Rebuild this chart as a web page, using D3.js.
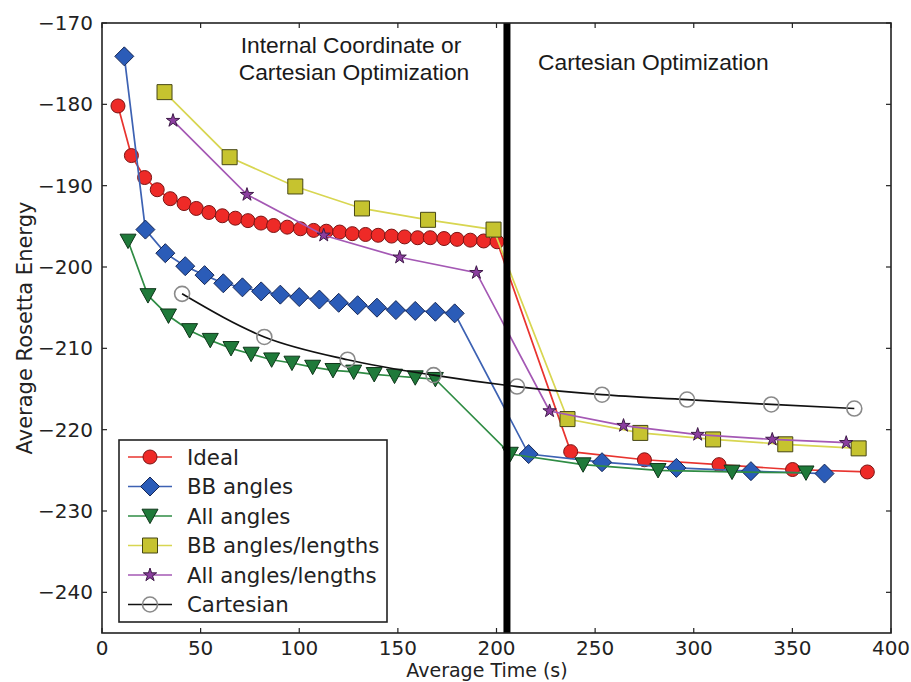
<!DOCTYPE html>
<html>
<head>
<meta charset="utf-8">
<script src="https://cdn.jsdelivr.net/npm/d3@7"></script>
<style>
  body { margin: 0; background: #fff; }
  svg { display: block; }
</style>
</head>
<body>
<svg id="chart"></svg>
<script>
// Ideal
var idealX = [8.1, 14.9, 21.6, 28.0, 34.6, 41.6, 47.8, 54.2, 61.0, 67.6, 74.0, 80.6, 87.0, 93.9, 100.6,
              107.3, 113.7, 120.5, 126.9, 133.6, 140.0, 146.8, 153.4, 160.0, 166.4, 173.4, 180.0, 186.7, 193.5, 200.3,
              237.6, 275.0, 312.8, 350.1, 388.0]
var idealY = [-180.2, -186.3, -189.0, -190.5, -191.6, -192.2, -192.8, -193.3, -193.7, -194.0, -194.3, -194.6, -194.9, -195.1, -195.3,
              -195.5, -195.6, -195.7, -195.9, -196.0, -196.1, -196.2, -196.3, -196.4, -196.4, -196.5, -196.6, -196.7, -196.8, -196.9,
              -222.7, -223.7, -224.3, -224.9, -225.2]
// BB angles
var bbX = [11.3, 22.0, 32.1, 42.2, 52.0, 61.5, 71.2, 80.7, 90.4, 100.0, 110.2, 120.0, 129.6, 139.4, 149.0, 158.8, 169.0, 178.8,
           216.3, 253.5, 291.2, 329.0, 366.3]
var bbY = [-174.1, -195.4, -198.3, -199.9, -201.0, -202.0, -202.5, -203.0, -203.4, -203.7, -204.0, -204.4, -204.7, -205.0, -205.3, -205.4, -205.5, -205.7,
           -223.0, -224.0, -224.7, -225.1, -225.4]
// All angles
var allX = [13.2, 23.3, 33.7, 44.4, 54.9, 65.4, 75.6, 86.0, 96.3, 106.8, 117.1, 127.6, 138.0, 148.3, 158.8, 169.0,
            207.0, 243.9, 281.9, 319.4, 356.9]
var allY = [-196.8, -203.5, -206.0, -207.8, -209.0, -210.0, -210.7, -211.4, -211.8, -212.3, -212.7, -212.9, -213.2, -213.4, -213.6, -213.8,
            -223.0, -224.3, -225.0, -225.2, -225.3]
// BB angles/lengths
var bbLenX = [31.7, 64.7, 98.0, 131.8, 165.3, 198.5, 236.0, 272.9, 309.8, 346.4, 383.6]
var bbLenY = [-178.5, -186.5, -190.1, -192.8, -194.2, -195.4, -218.7, -220.4, -221.2, -221.8, -222.3]
// All angles/lengths
var allLenX = [36.0, 73.5, 112.4, 150.9, 189.8, 226.9, 264.4, 302.0, 339.8, 377.3]
var allLenY = [-182.0, -191.1, -196.1, -198.8, -200.7, -217.7, -219.5, -220.6, -221.2, -221.6]
// Cartesian
var cartX = [40.6, 82.3, 124.5, 168.1, 210.4, 253.5, 296.6, 339.3, 381.4]
var cartY = [-203.3, -208.6, -211.4, -213.3, -214.7, -215.7, -216.3, -216.9, -217.4]

var seriesNames = ["Ideal", "BB angles", "All angles", "BB angles/lengths", "All angles/lengths", "Cartesian"]
var xTicks = [0, 50, 100, 150, 200, 250, 300, 350, 400]
var yTicks = [-240, -230, -220, -210, -200, -190, -180, -170]
var switchTime = 205.3

var dimensions = {
    width: 911,
    height: 682,
    margin: { top: 23, bottom: 49, left: 102, right: 20 }
}

var svg = d3.select("#chart")
            .attr("width", dimensions.width)
            .attr("height", dimensions.height)

var xScale = d3.scaleLinear()
               .domain([0, 400])
               .range([dimensions.margin.left, dimensions.width - dimensions.margin.right])
var yScale = d3.scaleLinear()
               .domain([-245, -170])
               .range([dimensions.height - dimensions.margin.bottom, dimensions.margin.top])

function markerPath(type, r) {
    if (type == "circle" || type == "open") return d3.symbol(d3.symbolCircle, Math.PI * r * r)()
    if (type == "diamond") return `M0,${-r}L${r},0L0,${r}L${-r},0Z`
    if (type == "tri") return `M${-r},${-r * 0.85}L${r},${-r * 0.85}L0,${r * 0.95}Z`
    if (type == "square") return `M${-r},${-r}H${r}V${r}H${-r}Z`
    if (type == "star") return d3.symbol(d3.symbolStar, r * r / 0.8908)()
}

var series = [
    { name: seriesNames[0], xs: idealX, ys: idealY, line: "#e8342f", fill: "#ee2a27", edge: "#7a1414", marker: "circle", r: 7 },
    { name: seriesNames[1], xs: bbX, ys: bbY, line: "#3d62b3", fill: "#2b5cb8", edge: "#172856", marker: "diamond", r: 9.5 },
    { name: seriesNames[2], xs: allX, ys: allY, line: "#2f8c44", fill: "#1f7a3a", edge: "#0e3519", marker: "tri", r: 8 },
    { name: seriesNames[3], xs: bbLenX, ys: bbLenY, line: "#d8d651", fill: "#c6c32f", edge: "#464615", marker: "square", r: 7.5 },
    { name: seriesNames[4], xs: allLenX, ys: allLenY, line: "#a458b4", fill: "#8b3e9f", edge: "#3e1a48", marker: "star", r: 7 },
    { name: seriesNames[5], xs: cartX, ys: cartY, line: "#111111", fill: "none", edge: "#8a8a8a", marker: "open", r: 7.5 }
]

var plot = svg.append("g")

series.forEach(s => {
    var pts = s.xs.map((x, i) => [x, s.ys[i]])
    var line = d3.line()
                 .x(d => xScale(d[0]))
                 .y(d => yScale(d[1]))
    if (s.marker == "open") line.curve(d3.curveMonotoneX)
    plot.append("path")
        .attr("d", line(pts))
        .attr("fill", "none")
        .attr("stroke", s.line)
        .attr("stroke-width", 1.7)
    plot.append("g")
        .selectAll("path")
        .data(pts)
        .enter()
        .append("path")
        .attr("transform", d => `translate(${xScale(d[0])},${yScale(d[1])})`)
        .attr("d", markerPath(s.marker, s.r))
        .attr("fill", s.fill)
        .attr("stroke", s.edge)
        .attr("stroke-width", s.marker == "open" ? 1.6 : 1)
})

// phase divider
svg.append("line")
   .attr("x1", xScale(switchTime)).attr("x2", xScale(switchTime))
   .attr("y1", yScale(-170)).attr("y2", yScale(-245))
   .attr("stroke", "black")
   .attr("stroke-width", 7)

// frame
var x0 = xScale(0), x1 = xScale(400), y0 = yScale(-245), y1 = yScale(-170)
svg.append("rect")
   .attr("x", x0).attr("y", y1)
   .attr("width", x1 - x0).attr("height", y0 - y1)
   .attr("fill", "none")
   .attr("stroke", "#222")
   .attr("stroke-width", 1.6)

// ticks inside on all sides
var tickG = svg.append("g").attr("stroke", "#222").attr("stroke-width", 1.2)
xTicks.forEach(t => {
    tickG.append("line").attr("x1", xScale(t)).attr("x2", xScale(t)).attr("y1", y0).attr("y2", y0 - 5)
    tickG.append("line").attr("x1", xScale(t)).attr("x2", xScale(t)).attr("y1", y1).attr("y2", y1 + 5)
})
yTicks.forEach(t => {
    tickG.append("line").attr("x1", x0).attr("x2", x0 + 5).attr("y1", yScale(t)).attr("y2", yScale(t))
    tickG.append("line").attr("x1", x1).attr("x2", x1 - 5).attr("y1", yScale(t)).attr("y2", yScale(t))
})

var labelFont = "DejaVu Sans, sans-serif"

svg.append("g")
   .selectAll("text")
   .data(xTicks)
   .enter()
   .append("text")
   .attr("x", d => xScale(d))
   .attr("y", y0 + 22)
   .attr("text-anchor", "middle")
   .attr("font-family", labelFont)
   .attr("font-size", 20)
   .attr("fill", "#222")
   .text(d => d)

svg.append("g")
   .selectAll("text")
   .data(yTicks)
   .enter()
   .append("text")
   .attr("x", x0 - 9)
   .attr("y", d => yScale(d) + 7)
   .attr("text-anchor", "end")
   .attr("font-family", labelFont)
   .attr("font-size", 20)
   .attr("fill", "#222")
   .text(d => "\u2212" + Math.abs(d))

svg.append("text")
   .attr("x", 487)
   .attr("y", 677)
   .attr("text-anchor", "middle")
   .attr("font-family", labelFont)
   .attr("font-size", 19)
   .attr("fill", "#222")
   .text("Average Time (s)")

svg.append("text")
   .attr("transform", `translate(32,${(y0 + y1) / 2}) rotate(-90)`)
   .attr("text-anchor", "middle")
   .attr("font-family", labelFont)
   .attr("font-size", 21)
   .attr("fill", "#222")
   .text("Average Rosetta Energy")

// phase annotations
var noteFont = "Liberation Sans, Arial, sans-serif"
svg.append("text")
   .attr("x", 351).attr("y", 53)
   .attr("text-anchor", "middle")
   .attr("font-family", noteFont)
   .attr("font-size", 22.8)
   .attr("fill", "#1a1a1a")
   .text("Internal Coordinate or")
svg.append("text")
   .attr("x", 354).attr("y", 80)
   .attr("text-anchor", "middle")
   .attr("font-family", noteFont)
   .attr("font-size", 22.8)
   .attr("fill", "#1a1a1a")
   .text("Cartesian Optimization")
svg.append("text")
   .attr("x", 538).attr("y", 70)
   .attr("font-family", noteFont)
   .attr("font-size", 22.8)
   .attr("fill", "#1a1a1a")
   .text("Cartesian Optimization")

// legend
var legend = svg.append("g")
legend.append("rect")
      .attr("x", 119).attr("y", 440)
      .attr("width", 268).attr("height", 182)
      .attr("fill", "white")
      .attr("stroke", "#222")
      .attr("stroke-width", 1.6)

series.forEach((s, i) => {
    var ly = 457 + i * 29.5
    legend.append("line")
          .attr("x1", 128).attr("x2", 172)
          .attr("y1", ly).attr("y2", ly)
          .attr("stroke", s.line)
          .attr("stroke-width", 1.7)
    legend.append("path")
          .attr("transform", `translate(150,${ly})`)
          .attr("d", markerPath(s.marker, s.r))
          .attr("fill", s.fill)
          .attr("stroke", s.edge)
          .attr("stroke-width", s.marker == "open" ? 1.6 : 1)
    legend.append("text")
          .attr("x", 187).attr("y", ly + 7.5)
          .attr("font-family", labelFont)
          .attr("font-size", 21.3)
          .attr("fill", "#222")
          .text(s.name)
})
</script>
</body>
</html>
